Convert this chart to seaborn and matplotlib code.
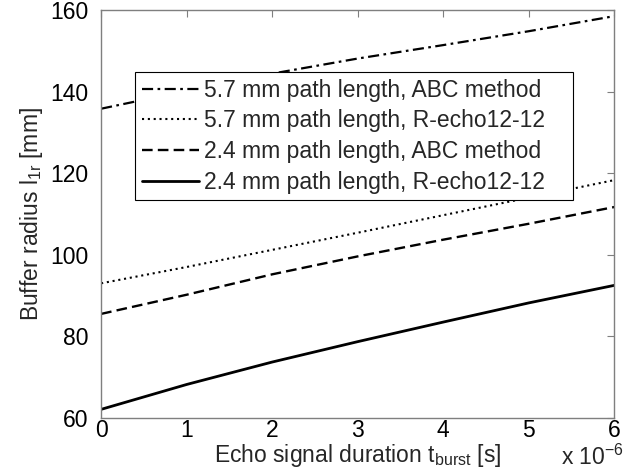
#!/usr/bin/env python3
"""Buffer radius vs. echo signal duration, MATLAB-style line chart."""

import matplotlib
matplotlib.use("Agg")
import matplotlib.pyplot as plt
import matplotlib.ticker as mticker
import pandas as pd
import seaborn as sns

# echo signal duration [s]
t_burst = [0, 1e-6, 2e-6, 3e-6, 4e-6, 5e-6, 6e-6]

abc_57 = [135.8, 140.2, 144.4, 148.1, 151.4, 154.8, 158.5]
recho_57 = [93.0, 97.0, 101.2, 105.4, 109.7, 114.0, 118.3]
abc_24 = [85.5, 90.2, 95.2, 99.6, 103.7, 107.6, 111.7]
recho_24 = [62.1, 68.2, 73.7, 78.7, 83.5, 88.2, 92.5]

labels = [
    "5.7 mm path length, ABC method",
    "5.7 mm path length, R-echo12-12",
    "2.4 mm path length, ABC method",
    "2.4 mm path length, R-echo12-12",
]

x_ticks = [0, 1e-6, 2e-6, 3e-6, 4e-6, 5e-6, 6e-6]
y_ticks = [60, 80, 100, 120, 140, 160]

FS = 16.5


def main() -> None:
    sns.set_theme(style="white")
    plt.rcParams["font.family"] = ["Liberation Sans", "DejaVu Sans"]
    plt.rcParams["font.size"] = FS
    plt.rcParams["mathtext.fontset"] = "custom"
    plt.rcParams["mathtext.rm"] = "Liberation Sans"
    plt.rcParams["mathtext.it"] = "Liberation Sans"

    series = [abc_57, recho_57, abc_24, recho_24]
    styles = [
        (0, (5, 2, 1.2, 2)),
        (0, (1, 1.8)),
        (0, (4.5, 2.2)),
        "-",
    ]
    widths = [1.6, 1.5, 1.7, 2.0]

    fig = plt.figure(figsize=(6.44, 4.76), dpi=100)
    ax = fig.add_axes([0.157, 0.122, 0.797, 0.857])

    for vals, lab, ls, lw in zip(series, labels, styles, widths):
        df = pd.DataFrame({"t": t_burst, "r": vals})
        sns.lineplot(data=df, x="t", y="r", color="black", linestyle=ls,
                     linewidth=lw, label=lab, ax=ax)

    ax.set_xlim(0, 6e-6)
    ax.set_ylim(60, 160)
    ax.set_xticks(x_ticks)
    ax.set_yticks(y_ticks)
    ax.xaxis.set_major_formatter(mticker.FuncFormatter(lambda v, p: f"{v * 1e6:.0f}"))

    for side in ax.spines.values():
        side.set_color("#7f7f7f")
        side.set_linewidth(1.0)
    ax.tick_params(direction="in", length=5, width=0.8, color="#7f7f7f",
                   top=True, right=True, labelsize=FS, labelcolor="black")
    ax.tick_params(axis="x", pad=1)
    ax.tick_params(axis="y", pad=9)

    ax.set_xlabel("Echo signal duration t$_{\\mathrm{burst}}$ [s]", fontsize=FS, labelpad=0)
    ax.set_ylabel("Buffer radius l$_{\\mathrm{1r}}$ [mm]", fontsize=FS, labelpad=4)
    fig.text(0.871, 0.012, "x 10$^{\\mathrm{-6}}$", fontsize=FS, ha="left", va="bottom")

    leg = ax.legend(loc="upper left", bbox_to_anchor=(0.066, 0.848 - 0.3, 0.854, 0.3),
                    mode="expand", frameon=True,
                    fancybox=False, framealpha=1, edgecolor="black",
                    handlelength=2.5, handletextpad=0.2, borderpad=0.3,
                    labelspacing=0.33, borderaxespad=0, fontsize=FS)
    leg.get_frame().set_linewidth(0.8)

    fig.savefig("out.png", dpi=100)
    plt.close(fig)


if __name__ == "__main__":
    main()
